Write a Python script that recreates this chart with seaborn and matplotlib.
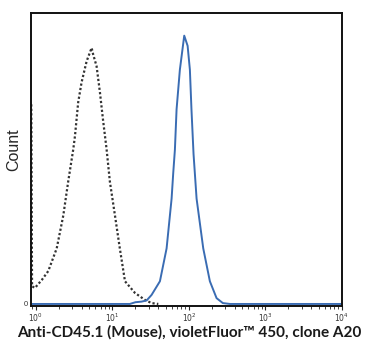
import numpy as np
import pandas as pd
import seaborn as sns
import matplotlib
import matplotlib.pyplot as plt
from matplotlib.ticker import LogLocator, NullFormatter

# unstained / isotype control (dotted) - fluorescence intensity vs count
control_x = [0.87, 0.89, 0.97, 1.19, 1.45, 1.87, 2.28, 2.64, 3.08, 3.24, 3.57, 3.95,
             4.60, 5.35, 5.61, 6.21, 6.87, 7.52, 8.39, 9.27, 10.8, 12.5, 14.6,
             19.7, 26.6, 32.5, 39.8]
control_y = [68.6, 6.1, 5.5, 8.2, 11.3, 19.1, 30.4, 42.0, 53.2, 57.7, 69.3, 76.1,
             83.4, 88.0, 85.7, 81.7, 72.7, 63.5, 53.2, 42.0, 30.4, 19.1, 7.8,
             3.8, 1.4, 0.3, 0.0]

# stained sample (blue)
stained_x = [0.87, 16.9, 20.0, 24.0, 28.0, 32.5, 41.8, 51.1, 59.4, 62.4, 65.6, 69.0,
             76.2, 86.9, 96.2, 103, 108, 115, 126, 154, 188, 230, 278, 344, 10000]
stained_y = [0.0, 0.0, 0.6, 0.8, 1.2, 3.1, 7.8, 19.1, 36.2, 45.0, 53.0, 66.9,
             80.5, 92.2, 88.7, 80.5, 66.9, 51.5, 36.2, 19.1, 7.8, 2.0, 0.3, 0.0, 0.0]

x_ticks = [1, 10, 100, 1000, 10000]
x_ticklabels = ['$10^0$', '$10^1$', '$10^2$', '$10^3$', '$10^4$']

control = pd.DataFrame({'intensity': control_x, 'count': control_y})
stained = pd.DataFrame({'intensity': stained_x, 'count': stained_y})

sns.set_style('white')
plt.rcParams['font.family'] = ['Liberation Sans', 'DejaVu Sans']

fig = plt.figure(figsize=(3.82, 3.6), dpi=100)
ax = fig.add_axes([0.081, 0.15, 0.814, 0.814])

sns.lineplot(data=control, x='intensity', y='count', ax=ax, color='#333333',
             linestyle=(0, (1, 1)), linewidth=1.6, sort=False)
sns.lineplot(data=stained, x='intensity', y='count', ax=ax, color='#3a6cb3',
             linewidth=1.4, sort=False)

ax.set_xscale('log')
ax.set_xlim(10 ** -0.065, 10000)
ax.set_ylim(-0.7, 100)

ax.set_xticks(x_ticks)
ax.set_xticklabels(x_ticklabels, fontsize=5.5, color='#333333')
ax.xaxis.set_minor_locator(LogLocator(base=10, subs=np.arange(2, 10)))
ax.xaxis.set_minor_formatter(NullFormatter())
ax.tick_params(axis='x', which='major', direction='out', length=3, width=0.8,
               pad=1, bottom=True)
ax.tick_params(axis='x', which='minor', direction='out', length=2, width=0.6,
               bottom=True)

ax.set_yticks([0])
ax.set_yticklabels(['0'], fontsize=5.5, color='#333333')
ax.tick_params(axis='y', length=0, pad=2)

for side in ['top', 'right', 'bottom', 'left']:
    ax.spines[side].set_visible(True)
    ax.spines[side].set_color('#111111')
    ax.spines[side].set_linewidth(1.4)

ax.set_ylabel('Count', fontsize=11.5)
ax.yaxis.set_label_coords(-0.032, 0.532)
ax.set_xlabel('Anti-CD45.1 (Mouse), violetFluor™ 450, clone A20', fontsize=11,
              fontweight='bold', family=['Lato', 'DejaVu Sans'], color='#1a1a1a')
ax.xaxis.set_label_coords(0.508, -0.066)

plt.savefig('out.png', dpi=100)
